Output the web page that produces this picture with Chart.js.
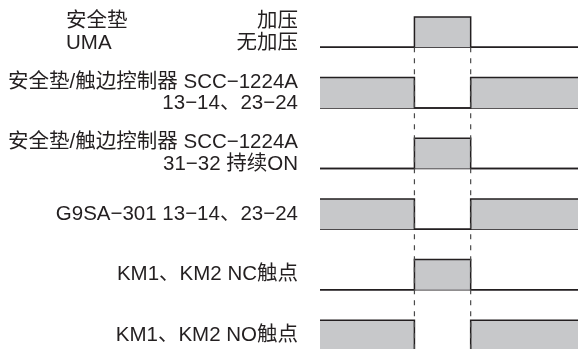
<!DOCTYPE html>
<html lang="zh">
<head>
    <meta charset="UTF-8">
    <title>SCC-1224A 时序图</title>
    <style>
body {
    margin: 0;
    padding: 0;
    background-color: #fff;
}

#chart-container {
    width: 578px;
    height: 349px;
}
    </style>
</head>
<body>
    <div id="chart-container">
        <canvas id="timingChart" width="578" height="349"></canvas>
    </div>

    <script src="https://cdn.jsdelivr.net/npm/chart.js"></script>
    <script>
        // Time points where the signals change (start, press, release, end)
        const times = [0, 3.66, 5.84, 10];

        // Signal level of each row in each interval (1 = high / ON, 0 = low)
        const umaLevels = [0, 1, 0];
        const sccOutLevels = [1, 0, 1];
        const sccAuxLevels = [0, 1, 0];
        const g9saLevels = [1, 0, 1];
        const kmNcLevels = [0, 1, 0];
        const kmNoLevels = [1, 0, 1];

        // Baseline value of each row on the y scale, top to bottom
        const rowBases = [10, 8, 6, 4, 2, 0];

        // Row labels
        const deviceName = ['安全垫', 'UMA'];
        const rowLabels = [
            ['加压', '无加压'],
            ['安全垫/触边控制器 SCC−1224A', '13−14、23−24'],
            ['安全垫/触边控制器 SCC−1224A', '31−32 持续ON'],
            ['G9SA−301 13−14、23−24'],
            ['KM1、KM2 NC触点'],
            ['KM1、KM2 NO触点']
        ];

        const allLevels = [umaLevels, sccOutLevels, sccAuxLevels, g9saLevels, kmNcLevels, kmNoLevels];

        const lineColor = '#231f20';
        const fillColor = '#c7c8ca';

        // Build stepped points for one row
        function stepPoints(levels, base) {
            const pts = [];
            levels.forEach((lv, i) => {
                pts.push({ x: times[i], y: base + lv });
            });
            pts.push({ x: times[times.length - 1], y: base + levels[levels.length - 1] });
            return pts;
        }

        const datasets = [];

        // Dashed marker lines at the press and release moments
        [times[1], times[2]].forEach(t => {
            datasets.push({
                data: [{ x: t, y: rowBases[0] }, { x: t, y: -1 }],
                borderColor: '#4a4a4a',
                borderWidth: 1.2,
                borderDash: [5, 6],
                pointRadius: 0,
                fill: false
            });
        });

        allLevels.forEach((levels, i) => {
            const base = rowBases[i];
            // filled signal shape
            datasets.push({
                data: stepPoints(levels, base),
                stepped: 'before',
                borderColor: lineColor,
                borderWidth: 1.5,
                backgroundColor: fillColor,
                pointRadius: 0,
                fill: { value: base }
            });
            // baseline across the full width
            datasets.push({
                data: [{ x: times[0], y: base }, { x: times[times.length - 1], y: base }],
                borderColor: lineColor,
                borderWidth: 1.5,
                pointRadius: 0,
                fill: false
            });
        });

        // Draws the row labels to the left of the plot area
        const labelPlugin = {
            id: 'rowLabels',
            afterDraw(chart) {
                const ctx = chart.ctx;
                const yScale = chart.scales.y;
                const right = chart.chartArea.left - 22;
                ctx.save();
                ctx.fillStyle = lineColor;
                ctx.font = '20.5px "Liberation Sans", "Noto Sans CJK SC", sans-serif';
                ctx.textBaseline = 'middle';

                rowLabels.forEach((lines, i) => {
                    const base = rowBases[i];
                    ctx.textAlign = 'right';
                    if (lines.length === 2) {
                        ctx.fillText(lines[0], right, yScale.getPixelForValue(base + 0.86));
                        ctx.fillText(lines[1], right, yScale.getPixelForValue(base + 0.14));
                    } else {
                        ctx.fillText(lines[0], right, yScale.getPixelForValue(base + 0.5));
                    }
                });

                // device name on the first row
                ctx.textAlign = 'left';
                ctx.fillText(deviceName[0], 66, yScale.getPixelForValue(rowBases[0] + 0.86));
                ctx.fillText(deviceName[1], 66, yScale.getPixelForValue(rowBases[0] + 0.14));
                ctx.restore();
            }
        };

        const ctx = document.getElementById('timingChart').getContext('2d');
        const chart = new Chart(ctx, {
            type: 'line',
            data: { datasets: datasets },
            options: {
                responsive: false,
                animation: false,
                layout: {
                    padding: { left: 320, right: 0, top: 0, bottom: 0 }
                },
                plugins: {
                    legend: { display: false },
                    tooltip: { enabled: false }
                },
                scales: {
                    x: { type: 'linear', min: 0, max: 10, display: false },
                    y: { type: 'linear', min: 0.05, max: 11.56, display: false }
                }
            },
            plugins: [labelPlugin]
        });
    </script>
</body>
</html>
